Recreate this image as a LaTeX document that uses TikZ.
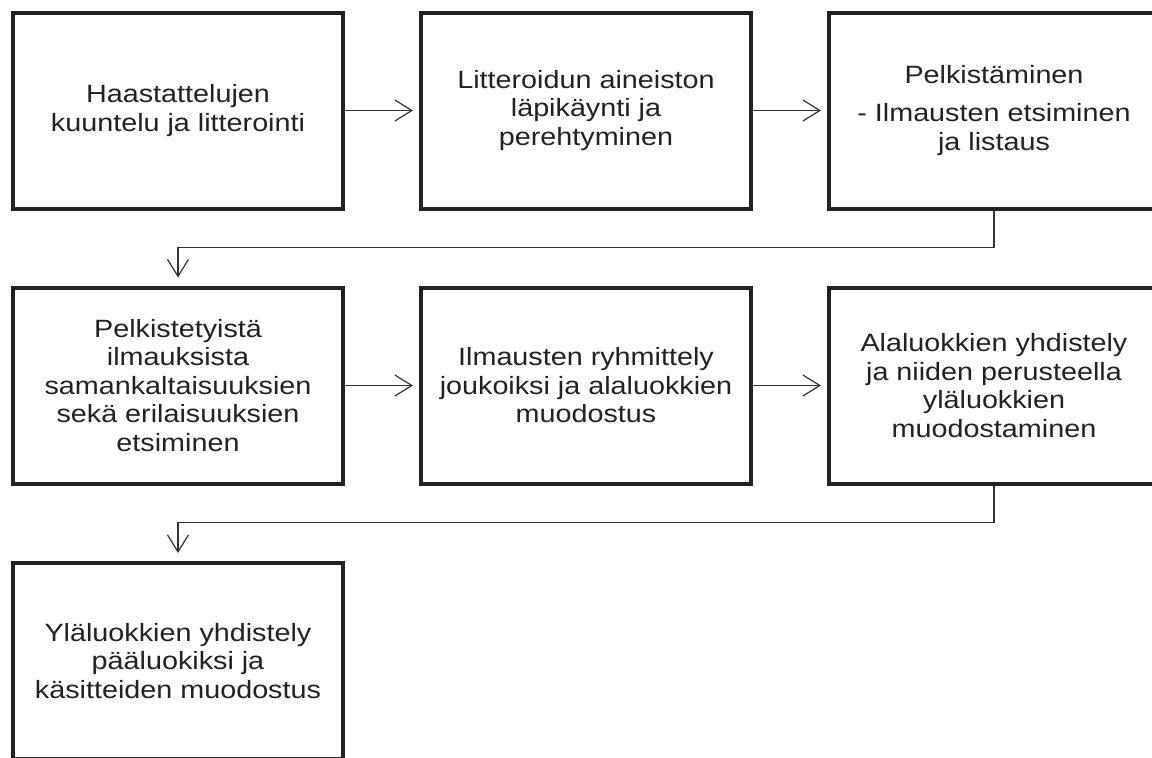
\documentclass[tikz,border=0pt]{standalone}
\usepackage{fontspec}
\setmainfont{Liberation Sans}[FakeStretch=1.15]
\usetikzlibrary{arrows.meta}
\definecolor{ink}{HTML}{222222}
\definecolor{wire}{HTML}{333333}
\begin{document}
\begin{tikzpicture}[x=1pt,y=1pt,
  stepbox/.style={draw=ink, line width=4pt, minimum width=330pt, minimum height=196pt,
    inner sep=0pt, align=center, text=ink, font=\fontsize{25}{28.5}\selectfont},
  conn/.style={draw=wire, line width=1.2pt, -{Straight Barb[length=17pt,width=21pt,line width=1.2pt]}, shorten >=6pt}
]
\useasboundingbox (0,0) rectangle (1152,-758);
\clip (0,0) rectangle (1152,-758);
\fill[white] (0,0) rectangle (1152,-758);
\node[stepbox] (b1) at (178,-110.5) {Haastattelujen\\kuuntelu ja litterointi};
\node[stepbox] (b2) at (586,-110.5) {Litteroidun aineiston\\läpikäynti ja\\perehtyminen};
\node[stepbox] (b3) at (994,-110.5) {Pelkistäminen\\[10pt]- Ilmausten etsiminen\\ja listaus};
\node[stepbox] (b4) at (178,-385.5) {Pelkistetyistä\\ilmauksista\\samankaltaisuuksien\\sekä erilaisuuksien\\etsiminen};
\node[stepbox] (b5) at (586,-385.5) {Ilmausten ryhmittely\\joukoiksi ja alaluokkien\\muodostus};
\node[stepbox] (b6) at (994,-385.5) {Alaluokkien yhdistely\\ja niiden perusteella\\yläluokkien\\muodostaminen};
\node[stepbox] (b7) at (178,-661) {Yläluokkien yhdistely\\pääluokiksi ja\\käsitteiden muodostus};
\draw[conn] (b1.east) -- (b2.west);
\draw[conn] (b2.east) -- (b3.west);
\draw[conn] (b4.east) -- (b5.west);
\draw[conn] (b5.east) -- (b6.west);
\draw[conn, shorten >=8pt] (b3.south) -- ++(0,-37) -| (b4.north);
\draw[conn, shorten >=8pt] (b6.south) -- ++(0,-37) -| (b7.north);
\end{tikzpicture}
\end{document}
